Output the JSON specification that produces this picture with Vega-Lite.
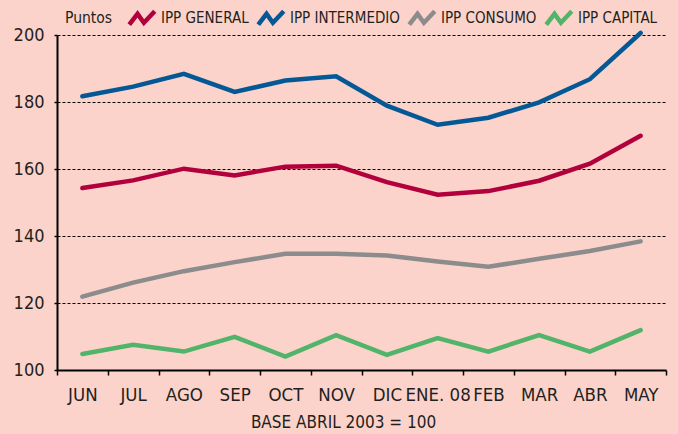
{
  "$schema": "https://vega.github.io/schema/vega-lite/v6.json",
  "width": 609,
  "height": 335,
  "autosize": "none",
  "padding": {"left": 57, "top": 35, "right": 12, "bottom": 64},
  "background": "#fcd3ca",
  "config": {
    "view": {"stroke": null},
    "font": "DejaVu Sans Condensed",
    "axis": {"labelFont": "DejaVu Sans Condensed", "titleFont": "DejaVu Sans Condensed", "labelColor": "#231f20", "titleColor": "#231f20"},
    "legend": {"labelFont": "DejaVu Sans Condensed", "titleFont": "DejaVu Sans Condensed"}
  },
  "data": {
    "values": [
      {"mes": "JUN", "serie": "IPP GENERAL", "valor": 154.3},
      {"mes": "JUL", "serie": "IPP GENERAL", "valor": 156.6},
      {"mes": "AGO", "serie": "IPP GENERAL", "valor": 160.1},
      {"mes": "SEP", "serie": "IPP GENERAL", "valor": 158.1},
      {"mes": "OCT", "serie": "IPP GENERAL", "valor": 160.7},
      {"mes": "NOV", "serie": "IPP GENERAL", "valor": 161.0},
      {"mes": "DIC", "serie": "IPP GENERAL", "valor": 156.1},
      {"mes": "ENE. 08", "serie": "IPP GENERAL", "valor": 152.3},
      {"mes": "FEB", "serie": "IPP GENERAL", "valor": 153.4},
      {"mes": "MAR", "serie": "IPP GENERAL", "valor": 156.5},
      {"mes": "ABR", "serie": "IPP GENERAL", "valor": 161.6},
      {"mes": "MAY", "serie": "IPP GENERAL", "valor": 169.9},
      {"mes": "JUN", "serie": "IPP INTERMEDIO", "valor": 181.7},
      {"mes": "JUL", "serie": "IPP INTERMEDIO", "valor": 184.6},
      {"mes": "AGO", "serie": "IPP INTERMEDIO", "valor": 188.4},
      {"mes": "SEP", "serie": "IPP INTERMEDIO", "valor": 183.0},
      {"mes": "OCT", "serie": "IPP INTERMEDIO", "valor": 186.4},
      {"mes": "NOV", "serie": "IPP INTERMEDIO", "valor": 187.7},
      {"mes": "DIC", "serie": "IPP INTERMEDIO", "valor": 178.9},
      {"mes": "ENE. 08", "serie": "IPP INTERMEDIO", "valor": 173.2},
      {"mes": "FEB", "serie": "IPP INTERMEDIO", "valor": 175.3},
      {"mes": "MAR", "serie": "IPP INTERMEDIO", "valor": 179.9},
      {"mes": "ABR", "serie": "IPP INTERMEDIO", "valor": 186.8},
      {"mes": "MAY", "serie": "IPP INTERMEDIO", "valor": 200.6},
      {"mes": "JUN", "serie": "IPP CONSUMO", "valor": 121.9},
      {"mes": "JUL", "serie": "IPP CONSUMO", "valor": 126.1},
      {"mes": "AGO", "serie": "IPP CONSUMO", "valor": 129.5},
      {"mes": "SEP", "serie": "IPP CONSUMO", "valor": 132.2},
      {"mes": "OCT", "serie": "IPP CONSUMO", "valor": 134.7},
      {"mes": "NOV", "serie": "IPP CONSUMO", "valor": 134.7},
      {"mes": "DIC", "serie": "IPP CONSUMO", "valor": 134.2},
      {"mes": "ENE. 08", "serie": "IPP CONSUMO", "valor": 132.4},
      {"mes": "FEB", "serie": "IPP CONSUMO", "valor": 130.8},
      {"mes": "MAR", "serie": "IPP CONSUMO", "valor": 133.2},
      {"mes": "ABR", "serie": "IPP CONSUMO", "valor": 135.5},
      {"mes": "MAY", "serie": "IPP CONSUMO", "valor": 138.4},
      {"mes": "JUN", "serie": "IPP CAPITAL", "valor": 104.8},
      {"mes": "JUL", "serie": "IPP CAPITAL", "valor": 107.5},
      {"mes": "AGO", "serie": "IPP CAPITAL", "valor": 105.5},
      {"mes": "SEP", "serie": "IPP CAPITAL", "valor": 109.9},
      {"mes": "OCT", "serie": "IPP CAPITAL", "valor": 104.0},
      {"mes": "NOV", "serie": "IPP CAPITAL", "valor": 110.4},
      {"mes": "DIC", "serie": "IPP CAPITAL", "valor": 104.5},
      {"mes": "ENE. 08", "serie": "IPP CAPITAL", "valor": 109.5},
      {"mes": "FEB", "serie": "IPP CAPITAL", "valor": 105.5},
      {"mes": "MAR", "serie": "IPP CAPITAL", "valor": 110.4},
      {"mes": "ABR", "serie": "IPP CAPITAL", "valor": 105.5},
      {"mes": "MAY", "serie": "IPP CAPITAL", "valor": 111.9}
    ]
  },
  "mark": {"type": "line", "strokeWidth": 4.5, "strokeCap": "round", "strokeJoin": "miter"},
  "encoding": {
    "x": {
      "field": "mes",
      "type": "ordinal",
      "sort": ["JUN", "JUL", "AGO", "SEP", "OCT", "NOV", "DIC", "ENE. 08", "FEB", "MAR", "ABR", "MAY"],
      "scale": {"type": "band", "paddingInner": 0, "paddingOuter": 0},
      "axis": {
        "title": "BASE ABRIL 2003 = 100",
        "titleFontSize": 17,
        "titleFontWeight": "normal",
        "titleX": 286,
        "titlePadding": 11,
        "labelAngle": 0,
        "labelFontSize": 18.5,
        "labelPadding": 10,
        "tickBand": "extent",
        "tickSize": 5,
        "tickColor": "#000000",
        "tickWidth": 1.5,
        "domainColor": "#000000",
        "domainWidth": 2,
        "grid": false
      }
    },
    "y": {
      "field": "valor",
      "type": "quantitative",
      "scale": {"domain": [100, 200], "nice": false, "zero": false},
      "axis": {
        "title": null,
        "values": [100, 120, 140, 160, 180, 200],
        "labelFontSize": 18,
        "labelPadding": 10,
        "tickSize": 3,
        "tickColor": "#000000",
        "tickWidth": 1.5,
        "domainColor": "#000000",
        "domainWidth": 2,
        "grid": true,
        "gridColor": "#000000",
        "gridDash": [3, 2],
        "gridWidth": 1,
        "gridOpacity": 1
      }
    },
    "color": {
      "field": "serie",
      "type": "nominal",
      "scale": {
        "domain": ["IPP GENERAL", "IPP INTERMEDIO", "IPP CONSUMO", "IPP CAPITAL"],
        "range": ["#b1003b", "#045896", "#8c8c8c", "#52b46a"]
      },
      "legend": {
        "orient": "none",
        "legendX": 8,
        "legendY": -32,
        "direction": "horizontal",
        "title": "Puntos",
        "titleOrient": "left",
        "titleFontSize": 15.5,
        "titleFontWeight": "normal",
        "titleColor": "#231f20",
        "titlePadding": 14,
        "labelFontSize": 15,
        "labelColor": "#231f20",
        "labelOffset": 4,
        "columnPadding": 0,
        "symbolType": "M-1,0.5L-0.35,-0.35L0.15,0.35L1,-0.55",
        "symbolSize": 650,
        "symbolStrokeWidth": 4.5,
        "symbolFillColor": "transparent"
      }
    }
  }
}
